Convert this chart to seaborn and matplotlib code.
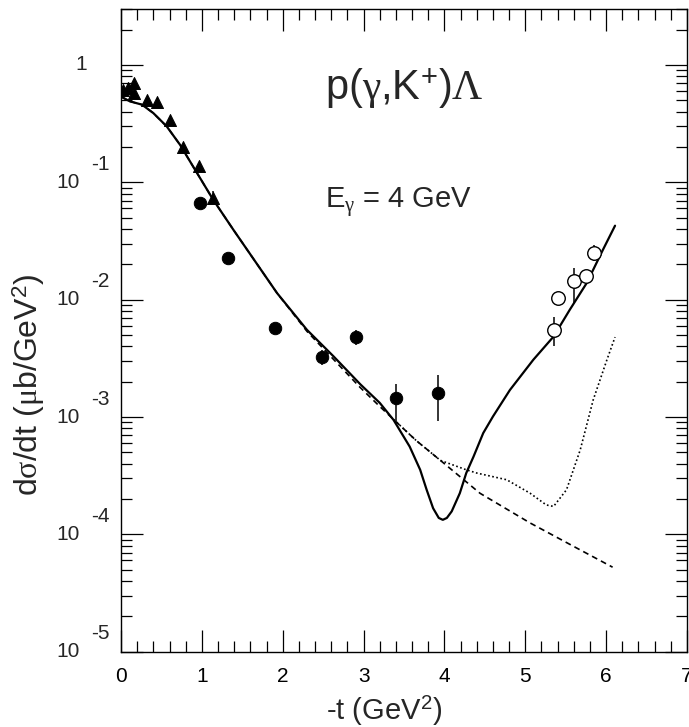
import numpy as np
import matplotlib
matplotlib.use("Agg")
import matplotlib.pyplot as plt
import matplotlib.ticker as mticker
from matplotlib.transforms import offset_copy
import seaborn as sns

# Datos leidos de la figura
# triangulos (llenos)
tri_t = [0.03, 0.09, 0.16, 0.16, 0.32, 0.45, 0.60, 0.77, 0.97, 1.14]
tri_y = [0.615, 0.637, 0.70, 0.577, 0.50, 0.48, 0.337, 0.20, 0.137, 0.0735]
tri_lo = [None, None, None, None, None, None, None, None, None, 0.065]
tri_hi = [None, None, None, None, None, None, None, None, None, 0.085]

# circulos llenos
dot_t = [0.98, 1.32, 1.91, 2.49, 2.91, 3.40, 3.92]
dot_y = [0.0666, 0.0228, 0.00569, 0.00326, 0.00483, 0.00145, 0.0016]
dot_lo = [None, None, None, 0.00279, 0.00412, 0.000916, 0.000916]
dot_hi = [None, None, None, 0.00375, 0.00554, 0.00191, 0.00229]

# circulos abiertos
open_t = [5.35, 5.40, 5.60, 5.75, 5.85]
open_y = [0.00554, 0.0103, 0.0143, 0.0160, 0.0252]
open_lo = [0.00399, None, 0.00935, None, 0.0212]
open_hi = [0.00705, None, 0.0188, None, 0.0294]

# curva solida
full_t = [0.0, 0.11, 0.26, 0.40, 0.565, 0.73, 0.89, 1.14, 1.39, 1.93, 2.30, 2.63,
          2.96, 3.20, 3.37, 3.57, 3.70, 3.78, 3.86, 3.93, 3.98, 4.03, 4.09, 4.19,
          4.27, 4.36, 4.48, 4.60, 4.81, 5.10, 5.35, 5.55, 5.76, 5.96, 6.11]
full_y = [0.537, 0.49, 0.459, 0.389, 0.300, 0.209, 0.137, 0.0711, 0.0394, 0.01138,
          0.00553, 0.00328, 0.0019, 0.00132, 0.000946, 0.00056, 0.000355, 0.00024,
          0.000167, 0.000138, 0.000133, 0.000138, 0.000157, 0.000224, 0.000333,
          0.00046, 0.00073, 0.00101, 0.0017, 0.00308, 0.00485, 0.0082, 0.01387,
          0.0266, 0.0427]

# curva discontinua
dash_t = [0.0, 0.11, 0.26, 0.40, 0.565, 0.73, 0.89, 1.14, 1.39, 1.93, 2.30, 2.63,
          2.96, 3.20, 3.37, 3.65, 3.95, 4.44, 5.06, 5.64, 6.08]
dash_y = [0.537, 0.49, 0.459, 0.389, 0.300, 0.209, 0.137, 0.0711, 0.0394, 0.01138,
          0.00537, 0.00309, 0.00178, 0.00123, 0.000955, 0.000631, 0.000427,
          0.000224, 0.000125, 7.62e-05, 5.25e-05]

# curva punteada
dot_line_t = [3.37, 3.65, 3.95, 4.27, 4.40, 4.77, 5.06, 5.26, 5.35, 5.51, 5.68,
              5.84, 6.01, 6.11]
dot_line_y = [0.000955, 0.000631, 0.000427, 0.000355, 0.000333, 0.000292,
              0.000224, 0.000178, 0.000173, 0.00024, 0.000526, 0.0014, 0.00308,
              0.0048]

decades = [0, -1, -2, -3, -4, -5]

sns.set_style("ticks")
plt.rcParams["font.family"] = ["Liberation Sans", "DejaVu Sans"]
plt.rcParams["mathtext.fontset"] = "custom"
plt.rcParams["mathtext.rm"] = "Liberation Sans"
plt.rcParams["mathtext.it"] = "Liberation Serif"
plt.rcParams["mathtext.cal"] = "Liberation Serif"

W, H = 689, 727
fig = plt.figure(figsize=(W / 100, H / 100), dpi=100)
ax = fig.add_axes([121 / W, 1 - 651.7 / H, 566 / W, 642.7 / H])

# curvas
sns.lineplot(x=dash_t, y=dash_y, ax=ax, color="k", lw=1.2, linestyle=(0, (3.5, 2.5)),
             sort=False, estimator=None)
sns.lineplot(x=dot_line_t, y=dot_line_y, ax=ax, color="k", lw=1.2, linestyle=(0, (1, 1.5)),
             sort=False, estimator=None)
sns.lineplot(x=full_t, y=full_y, ax=ax, color="k", lw=1.6, sort=False, estimator=None)

# barras de error
for tt, lo, hi in zip(tri_t + dot_t + open_t, tri_lo + dot_lo + open_lo,
                      tri_hi + dot_hi + open_hi):
    if lo is not None:
        ax.vlines(tt, lo, hi, color="k", lw=1.1)

# puntos
sns.scatterplot(x=tri_t, y=tri_y, ax=ax, marker="^", s=75, color="k", edgecolor="k", zorder=5)
sns.scatterplot(x=dot_t, y=dot_y, ax=ax, marker="o", s=80, color="k", edgecolor="k", zorder=5)
sns.scatterplot(x=open_t, y=open_y, ax=ax, marker="o", s=95, facecolor="white",
                edgecolor="k", linewidth=1.0, zorder=5)

ax.set_yscale("log")
ax.set_xlim(0, 7)
ax.set_ylim(1e-5, 3)

ax.xaxis.set_major_locator(mticker.MultipleLocator(1))
ax.xaxis.set_minor_locator(mticker.MultipleLocator(0.2))
ax.yaxis.set_major_locator(mticker.FixedLocator([10.0 ** d for d in decades]))
ax.yaxis.set_minor_locator(mticker.LogLocator(base=10, subs=np.arange(2, 10), numticks=20))
ax.yaxis.set_major_formatter(mticker.NullFormatter())
ax.yaxis.set_minor_formatter(mticker.NullFormatter())
ax.xaxis.set_major_formatter(mticker.FormatStrFormatter("%d"))

ax.tick_params(which="both", direction="in", top=True, right=True, color="k", width=0.9)
ax.tick_params(which="major", length=16)
ax.tick_params(which="minor", length=8)
ax.tick_params(axis="x", which="major", labelsize=15, pad=11, labelcolor="k")
for sp in ax.spines.values():
    sp.set_linewidth(1.0)
    sp.set_color("k")

# etiquetas del eje y estilo ROOT
ytrans = ax.get_yaxis_transform()
up = offset_copy(ytrans, fig=fig, y=18, units="dots")
for d in decades:
    if d == 0:
        ax.text(-(121 - 87) / 566, 1.0, "1", transform=ytrans, ha="right", va="center",
                fontsize=15)
    else:
        ax.text(-(121 - 80) / 566, 10.0 ** d, "10", transform=ytrans, ha="right",
                va="center", fontsize=15)
        ax.text(-(121 - 91) / 566, 10.0 ** d, str(d), transform=up, ha="left",
                va="center", fontsize=15)

ax.set_xlabel(r"-t (GeV$^{2}$)", fontsize=21, va="baseline")
ax.xaxis.set_label_coords((384 - 121) / 566, -(720 - 651.7) / 642.7)
ax.set_ylabel(r"d$\sigma$/dt ($\mu$b/GeV$^{2}$)", fontsize=23)
ax.yaxis.set_label_coords(-(121 - 47) / 566, (651.7 - 385) / 642.7)

fig.text(325 / W, 1 - 100 / H, r"p($\gamma$,K$^{+}$)$\mathcal{\Lambda}$", fontsize=30,
         ha="left", va="baseline")
fig.text(325 / W, 1 - 208 / H, r"E$_{\gamma}$ = 4 GeV", fontsize=21, ha="left",
         va="baseline")

fig.savefig("out.png", dpi=100)
